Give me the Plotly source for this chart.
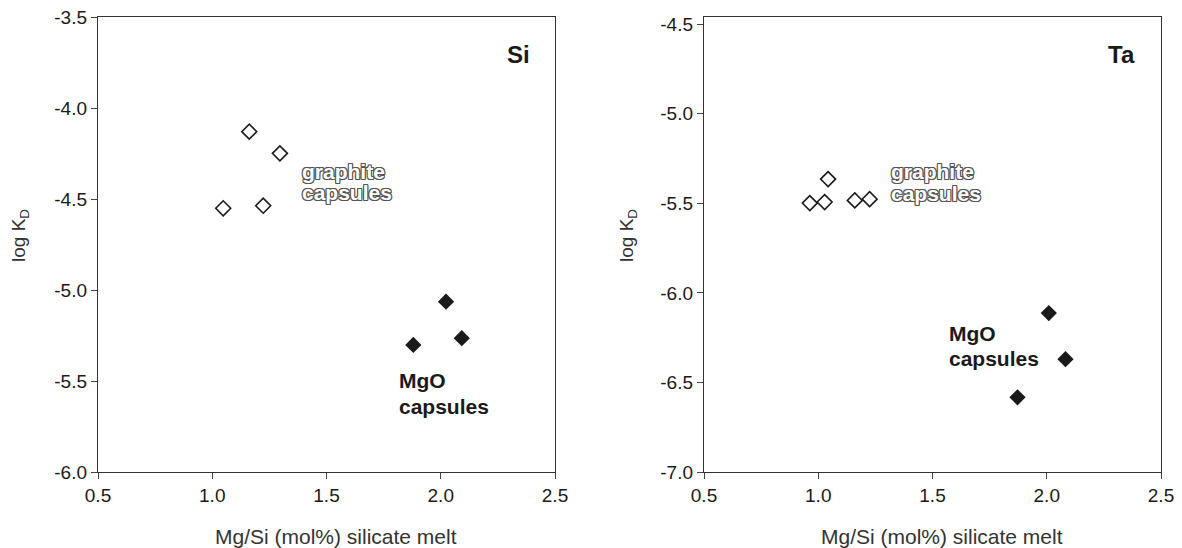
import plotly.graph_objects as go

# ---- data ----
si_graphite_x = [1.048, 1.162, 1.223, 1.296]
si_graphite_y = [-4.551, -4.130, -4.537, -4.249]
si_mgo_x = [1.880, 2.023, 2.092]
si_mgo_y = [-5.302, -5.064, -5.265]

ta_graphite_x = [0.963, 1.028, 1.043, 1.160, 1.225]
ta_graphite_y = [-5.499, -5.493, -5.365, -5.484, -5.477]
ta_mgo_x = [1.872, 2.009, 2.082]
ta_mgo_y = [-6.583, -6.113, -6.370]

x_ticks = [0.5, 1.0, 1.5, 2.0, 2.5]
si_y_ticks = [-6.0, -5.5, -5.0, -4.5, -4.0, -3.5]
ta_y_ticks = [-7.0, -6.5, -6.0, -5.5, -5.0, -4.5]

W, H = 1182, 548
FONT = "Liberation Sans, Arial, sans-serif"

fig = go.Figure()

open_marker = dict(symbol="diamond-open", size=11.5, color="#1a1a1a", line=dict(width=1.6, color="#1a1a1a"))
filled_marker = dict(symbol="diamond", size=12.5, color="#1a1a1a", line=dict(width=0))

fig.add_trace(go.Scatter(x=si_graphite_x, y=si_graphite_y, mode="markers", marker=open_marker,
                         xaxis="x", yaxis="y", showlegend=False))
fig.add_trace(go.Scatter(x=si_mgo_x, y=si_mgo_y, mode="markers", marker=filled_marker,
                         xaxis="x", yaxis="y", showlegend=False))
fig.add_trace(go.Scatter(x=ta_graphite_x, y=ta_graphite_y, mode="markers", marker=open_marker,
                         xaxis="x2", yaxis="y2", showlegend=False))
fig.add_trace(go.Scatter(x=ta_mgo_x, y=ta_mgo_y, mode="markers", marker=filled_marker,
                         xaxis="x2", yaxis="y2", showlegend=False))

def common():
    return dict(ticks="outside", ticklen=6, tickcolor="#444", tickwidth=1, showline=True,
                linecolor="#333", linewidth=1.3, mirror=True, showgrid=False, zeroline=False,
                automargin=False, tickfont=dict(family=FONT, size=19, color="#1a1a1a"))

def xax(domain, anchor):
    return dict(domain=domain, anchor=anchor, range=[0.5, 2.5], tickvals=x_ticks,
                ticktext=[f"{v:.1f}" for v in x_ticks], **common())

def yax(domain, anchor, rng, ticks):
    return dict(domain=domain, anchor=anchor, range=rng, tickvals=ticks,
                ticktext=[f"{v:.1f}" for v in ticks], **common())

top = 17
bottom = 472
ydom = [1 - bottom / H, 1 - top / H]

fig.update_layout(
    width=W, height=H,
    margin=dict(l=0, r=0, t=0, b=0),
    paper_bgcolor="white", plot_bgcolor="white",
    xaxis=xax([98 / W, 555 / W], "y"),
    yaxis=yax(ydom, "x", [-6.0, -3.5], si_y_ticks),
    xaxis2=xax([704 / W, 1161 / W], "y2"),
    yaxis2=yax(ydom, "x2", [-7.0, -4.46], ta_y_ticks),
)

outline = ("1px 0 0 #555, -1px 0 0 #555, 0 1px 0 #555, 0 -1px 0 #555, "
           "1px 1px 0 #555, -1px -1px 0 #555, 1px -1px 0 #555, -1px 1px 0 #555")

def ann(x, y, text, size=16, bold=False, xanchor="center", color="#1a1a1a", angle=0, shadow=None, family=FONT):
    f = dict(family=family, size=size, color=color)
    if shadow:
        f["shadow"] = shadow
    t = f"<b>{text}</b>" if bold else text
    fig.add_annotation(x=x / W, y=1 - y / H, xref="paper", yref="paper", text=t, showarrow=False,
                       xanchor=xanchor, yanchor="middle", font=f, textangle=angle, align="left")

# panel labels
ann(518, 54, "Si", size=24, bold=True)
ann(1121, 54, "Ta", size=24, bold=True)

# graphite capsules (outlined text)
ann(300, 172, "graphite", size=21, bold=True, color="white", xanchor="left", shadow=outline)
ann(300, 192, "capsules", size=21, bold=True, color="white", xanchor="left", shadow=outline)
ann(889, 172, "graphite", size=21, bold=True, color="white", xanchor="left", shadow=outline)
ann(889, 193, "capsules", size=21, bold=True, color="white", xanchor="left", shadow=outline)

# MgO capsules
ann(397, 380, "MgO", size=21, bold=True, xanchor="left")
ann(397, 406, "capsules", size=21, bold=True, xanchor="left")
ann(947, 333, "MgO", size=21, bold=True, xanchor="left")
ann(947, 358, "capsules", size=21, bold=True, xanchor="left")

# axis titles
ann(336, 536, "Mg/Si (mol%) silicate melt", size=21, color="#333")
ann(942, 536, "Mg/Si (mol%) silicate melt", size=21, color="#333")
ann(20, 236, "log K<sub>D</sub>", size=19, color="#333", angle=-90)
ann(628, 236, "log K<sub>D</sub>", size=19, color="#333", angle=-90)

fig.write_html("out.html")
